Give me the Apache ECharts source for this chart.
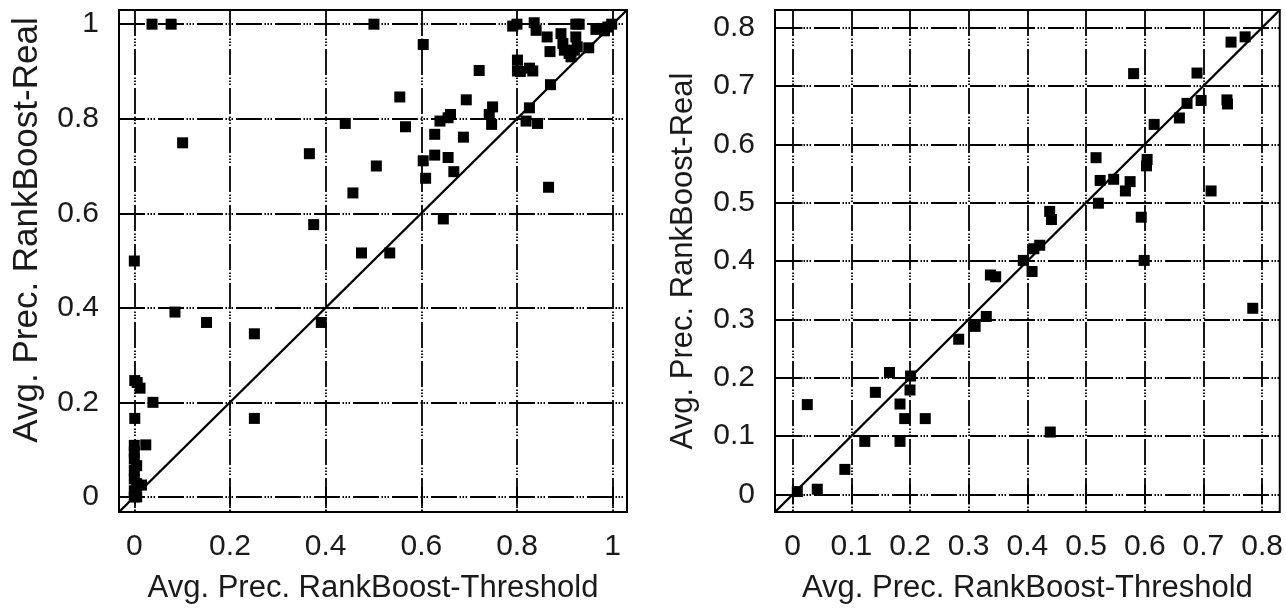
<!DOCTYPE html>
<html>
<head>
<meta charset="utf-8">
<script src="https://cdn.jsdelivr.net/npm/echarts@6/dist/echarts.min.js"></script>
<style>
html,body{margin:0;padding:0;background:#fff;}
#chart{width:1286px;height:609px;}
</style>
</head>
<body>
<div id="chart"></div>
<script>
// ---- data ----
var leftTicks = [0, 0.2, 0.4, 0.6, 0.8, 1];
var rightTicks = [0, 0.1, 0.2, 0.3, 0.4, 0.5, 0.6, 0.7, 0.8];
var xTitle = 'Avg. Prec. RankBoost-Threshold';
var yTitle = 'Avg. Prec. RankBoost-Real';

var leftThreshold = [0.037,0.077,0.101,0.366,0.441,0.457,0.375,0.475,0.0,
  0.501,0.604,0.791,0.800,0.836,0.840,0.863,0.869,0.892,0.896,0.899,0.909,0.923,0.930,0.923,0.926,0.920,0.913,0.950,0.965,0.976,0.983,0.990,0.998,
  0.801,0.807,0.801,0.826,0.833,0.721,0.870,0.555,0.694,0.749,0.742,0.747,0.826,0.819,0.843,0.567,0.639,0.661,0.656,0.628,0.688,
  0.604,0.628,0.656,0.668,0.609,0.506,0.866,0.646,0.534,
  0.085,0.151,0.251,0.391,0.001,0.006,0.012,0.039,0.251,0.001,0.024,0.0,0.0,0.0,0.005,0.0,0.0,0.005,0.015,0.0,0.005,0.0];
var leftReal = [1.0,1.0,0.749,0.726,0.790,0.643,0.576,0.516,0.499,
  1.0,0.957,0.996,1.0,1.003,0.987,0.973,0.942,0.980,0.959,0.945,0.938,1.0,1.0,0.973,0.952,0.945,0.931,0.950,0.989,0.991,0.986,0.994,1.0,
  0.924,0.900,0.901,0.907,0.901,0.902,0.872,0.846,0.840,0.825,0.809,0.788,0.823,0.795,0.790,0.783,0.795,0.809,0.802,0.767,0.761,
  0.711,0.723,0.718,0.688,0.674,0.700,0.655,0.588,0.516,
  0.391,0.369,0.345,0.369,0.246,0.242,0.230,0.200,0.166,0.166,0.110,0.109,0.095,0.080,0.066,0.056,0.038,0.028,0.025,0.013,0.0,0.0];

var rightThreshold = [0.771,0.747,0.581,0.689,0.696,0.740,0.741,0.672,0.659,0.616,0.517,0.604,0.603,0.524,0.547,0.575,0.567,0.713,0.521,0.594,
  0.438,0.441,0.421,0.411,0.393,0.408,0.599,0.337,0.346,0.330,0.311,0.309,0.283,0.165,0.201,0.200,0.141,0.025,0.183,0.191,0.226,
  0.123,0.183,0.089,0.042,0.008,0.784,0.439];
var rightReal = [0.784,0.775,0.721,0.722,0.675,0.676,0.669,0.670,0.645,0.634,0.577,0.574,0.563,0.538,0.540,0.536,0.520,0.520,0.499,0.475,
  0.485,0.471,0.427,0.421,0.401,0.382,0.401,0.376,0.373,0.305,0.288,0.291,0.266,0.209,0.203,0.179,0.175,0.154,0.155,0.130,0.130,
  0.091,0.091,0.043,0.009,0.005,0.319,0.107];

var leftRange = [-0.032, 1.03];
var rightRange = [-0.03, 0.83];

function pairs(xs, ys){ var out=[]; for(var i=0;i<xs.length;i++) out.push([xs[i], ys[i]]); return out; }

var chart = echarts.init(document.getElementById('chart'), null, {renderer:'canvas'});
var FONT = 'Liberation Sans, Arial, sans-serif';
var TXT = '#1a1a1a';
var gridDash = [26, 2.5, 1.5, 1.5, 1.5, 1.5, 1.5, 3];

function xAxisDef(gi, ticks, range, pos){
  var main = pos === 'bottom';
  return {
    type:'value', gridIndex:gi, position:pos, min:range[0], max:range[1],
    axisLine:{show:false},
    axisTick:{show:true, inside:true, length:10, customValues:ticks, lineStyle:{color:'#000', width:1.8}},
    axisLabel:{show:main, customValues:ticks, margin:20, fontSize:30, fontFamily:FONT, color:TXT},
    splitLine:{show:main, lineStyle:{color:'#000', width:1.8, type:gridDash}},
    name: main ? xTitle : '', nameLocation:'middle', nameGap:61,
    nameTextStyle:{fontSize:31, fontFamily:FONT, color:TXT}
  };
}
function yAxisDef(gi, ticks, range, pos, nameSize, nameGap, shift){
  var main = pos === 'left';
  return {
    type:'value', gridIndex:gi, position:pos, min:range[0], max:range[1],
    axisLine:{show:false},
    axisTick:{show:true, inside:true, length:10, customValues:ticks, lineStyle:{color:'#000', width:1.8}},
    axisLabel:{show:main, customValues:ticks, margin:20, fontSize:30, fontFamily:FONT, color:TXT},
    splitLine:{show:main, lineStyle:{color:'#000', width:1.8, type:gridDash}},
    name: main ? yTitle : '', nameLocation:'middle', nameGap:nameGap, nameRotate:90,
    nameTextStyle:{fontSize:nameSize, fontFamily:FONT, color:TXT, padding:[0,0,0,shift]}
  };
}

var option = {
  animation:false,
  backgroundColor:'#fff',
  grid:[
    {left:119, top:10, width:508, height:506, show:true, borderColor:'#000', borderWidth:2, backgroundColor:'transparent'},
    {left:775, top:10, width:505, height:506, show:true, borderColor:'#000', borderWidth:2, backgroundColor:'transparent'}
  ],
  xAxis:[
    xAxisDef(0, leftTicks, leftRange, 'bottom'),
    xAxisDef(0, leftTicks, leftRange, 'top'),
    xAxisDef(1, rightTicks, rightRange, 'bottom'),
    xAxisDef(1, rightTicks, rightRange, 'top')
  ],
  yAxis:[
    yAxisDef(0, leftTicks, leftRange, 'left', 35, 74, 62),
    yAxisDef(0, leftTicks, leftRange, 'right', 35, 74, 0),
    yAxisDef(1, rightTicks, rightRange, 'left', 31, 76, 0),
    yAxisDef(1, rightTicks, rightRange, 'right', 31, 76, 0)
  ],
  series:[
    {type:'line', xAxisIndex:0, yAxisIndex:0, data:[[leftRange[0],leftRange[0]],[leftRange[1],leftRange[1]]],
     symbol:'none', lineStyle:{color:'#000', width:2.4}, silent:true, z:3},
    {type:'line', xAxisIndex:2, yAxisIndex:2, data:[[rightRange[0],rightRange[0]],[rightRange[1],rightRange[1]]],
     symbol:'none', lineStyle:{color:'#000', width:2.4}, silent:true, z:3},
    {type:'scatter', xAxisIndex:0, yAxisIndex:0, data:pairs(leftThreshold, leftReal),
     symbol:'rect', symbolSize:11, itemStyle:{color:'#000', opacity:1}, z:4},
    {type:'scatter', xAxisIndex:2, yAxisIndex:2, data:pairs(rightThreshold, rightReal),
     symbol:'rect', symbolSize:11, itemStyle:{color:'#000', opacity:1}, z:4}
  ]
};
chart.setOption(option);
</script>
</body>
</html>
